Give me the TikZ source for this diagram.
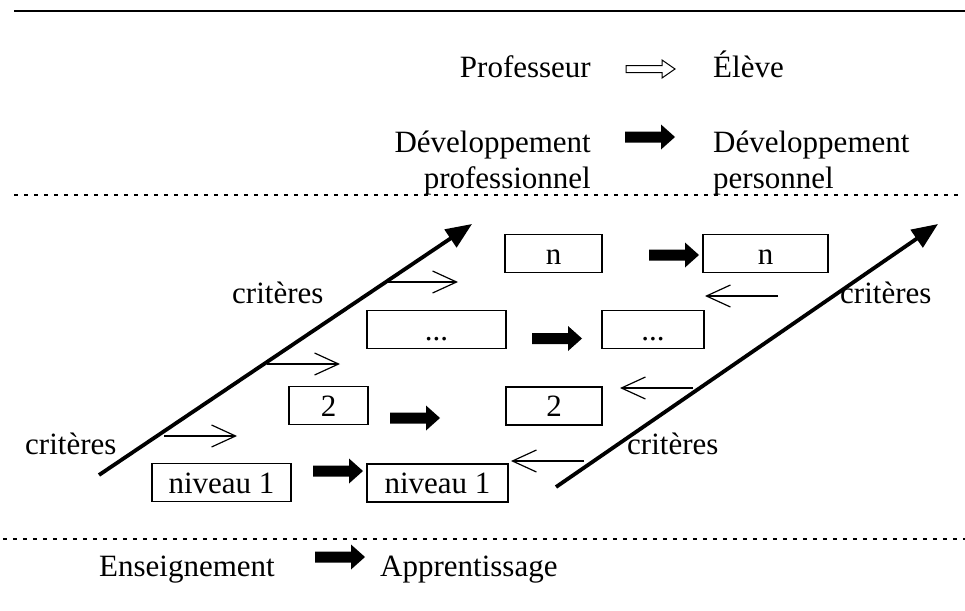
\documentclass[tikz,border=0pt]{standalone}
\usepackage{fontspec}
\setmainfont{Liberation Serif}
\usetikzlibrary{arrows.meta}

\tikzset{
  every node/.style={font=\fontsize{31}{36}\selectfont, inner sep=0pt},
  levelbox/.style={draw, line width=1.6pt, minimum height=38pt, text height=21.4pt, text depth=0pt},
  sepline/.style={line width=2.2pt, dash pattern=on 4pt off 6pt},
  bigarrow/.style={line width=3.8pt, -{Triangle[length=26pt,width=21pt]}},
  thinarrow/.style={line width=1.2pt, -{Straight Barb[length=24pt,width=22pt,line width=1.2pt]}},
  fatarrow/.pic={\path[pic actions] (0,-5.5) -- (36,-5.5) -- (36,-12.5) -- (50,0)
      -- (36,12.5) -- (36,5.5) -- (0,5.5) -- cycle;},
  hollowarrow/.pic={\path[pic actions] (0,-3.5) -- (36,-3.5) -- (36,-9) -- (49,0)
      -- (36,9) -- (36,3.5) -- (0,3.5) -- cycle;}
}

\begin{document}
\begin{tikzpicture}[x=1pt, y=-1pt]
    \useasboundingbox (0,0) rectangle (965,610);

    % Rules
    \draw[line width=2.4pt] (14,11) -- (965,11);
    \draw[sepline] (14,195) -- (962,195);
    \draw[sepline] (3,539) -- (965,539);

    % Legend
    \node[anchor=base east] (prof) at (591,77) {Professeur};
    \pic[draw, line width=1pt, fill=white] at (626,69) {hollowarrow};
    \node[anchor=base west] (eleve) at (713,77) {Élève};

    \node[anchor=base east, align=right] (devpro) at (591,188) {Développement\\professionnel};
    \pic[fill=black] at (625,137) {fatarrow};
    \node[anchor=base west, align=left] (devperso) at (713,188) {Développement\\personnel};

    % Teacher levels (left) and pupil levels (right)
    \node[levelbox, minimum width=97pt] (ln) at (553.5,253.5) {n};
    \node[levelbox, minimum width=139pt] (ldots) at (436.5,329.5) {...};
    \node[levelbox, minimum width=79pt] (l2) at (328.5,405.5) {2};
    \node[levelbox, minimum width=139pt] (l1) at (221.5,482.5) {niveau 1};

    \node[levelbox, minimum width=125pt] (rn) at (765.5,253.5) {n};
    \node[levelbox, minimum width=102pt] (rdots) at (653,329.5) {...};
    \node[levelbox, minimum width=96pt] (r2) at (554,406) {2};
    \node[levelbox, minimum width=141pt] (r1) at (437.5,483) {niveau 1};

    % Fat arrows between the levels
    \pic[fill=black] at (649,255) {fatarrow};
    \pic[fill=black] at (532,338.5) {fatarrow};
    \pic[fill=black] at (390,418) {fatarrow};
    \pic[fill=black] at (313,471) {fatarrow};

    % Criteria axes
    \coordinate (lfoot) at (99,475);
    \coordinate (lhead) at (472,224);
    \coordinate (rfoot) at (556,487);
    \coordinate (rhead) at (938,224);
    \draw[bigarrow] (lfoot) -- (lhead);
    \draw[bigarrow] (rfoot) -- (rhead);

    \foreach \x/\y in {385/282, 267/364, 164/436}
      \draw[thinarrow] (\x,\y) -- ++(73,0);
    \foreach \x/\y in {778/296, 693/388, 584/461}
      \draw[thinarrow] (\x,\y) -- ++(-73,0);

    \node[anchor=base west] (crit1) at (232,303) {critères};
    \node[anchor=base west] (crit2) at (840,303) {critères};
    \node[anchor=base west] (crit3) at (25,454) {critères};
    \node[anchor=base west] (crit4) at (627,454) {critères};

    % Bottom line
    \node[anchor=base west] (ens) at (99,576) {Enseignement};
    \pic[fill=black] at (315,557) {fatarrow};
    \node[anchor=base west] (app) at (380,576) {Apprentissage};
\end{tikzpicture}
\end{document}
